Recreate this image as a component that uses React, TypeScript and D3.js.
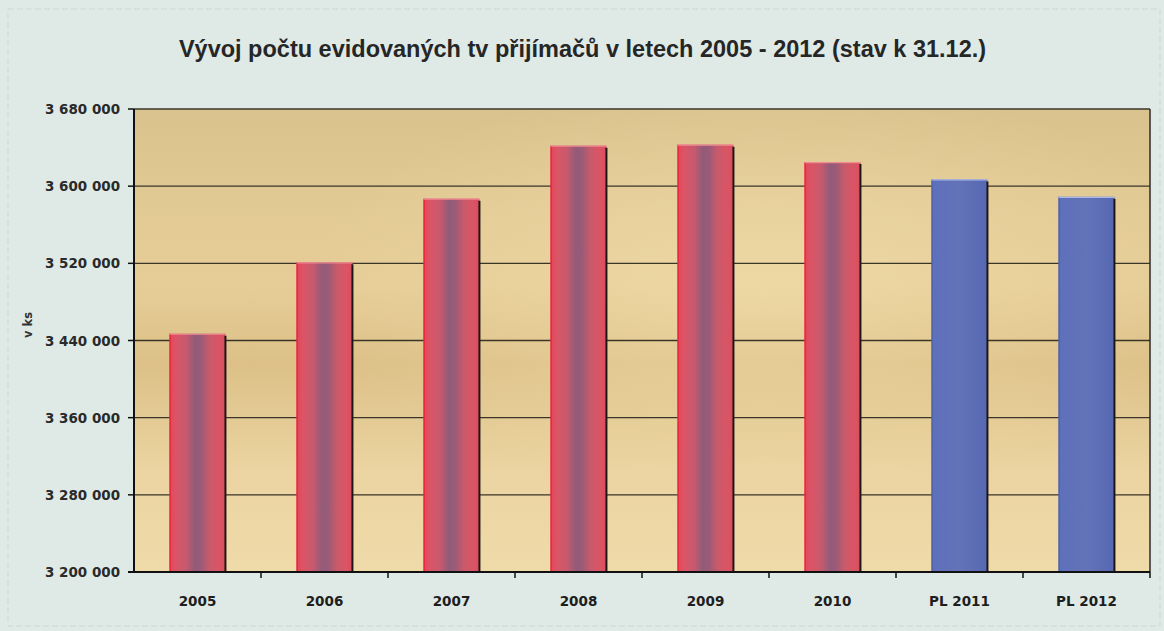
import React from 'react';
import * as d3 from 'd3';

// chart data
const categories = ['2005', '2006', '2007', '2008', '2009', '2010', 'PL 2011', 'PL 2012'];
const values = [3447000, 3521000, 3587000, 3642000, 3643000, 3625000, 3607000, 3589000];
const planned = [false, false, false, false, false, false, true, true];
const yTicks = [3200000, 3280000, 3360000, 3440000, 3520000, 3600000, 3680000];

const title = 'Vývoj počtu evidovaných tv přijímačů v letech 2005 - 2012 (stav k 31.12.)';
const yTitle = 'v ks';

const W = 1164;
const H = 631;
const margin = { top: 109, right: 14, bottom: 59, left: 134 };

const fmt = (v: number) => d3.format(',')(v).replace(/,/g, ' ');

const App = () => {
  const plotBottom = H - margin.bottom;
  const plotRight = W - margin.right;

  const x = d3.scaleBand<string>()
    .domain(categories)
    .range([margin.left, plotRight])
    .paddingInner(0.56)
    .paddingOuter(0.28);

  const y = d3.scaleLinear()
    .domain([yTicks[0], yTicks[yTicks.length - 1]])
    .range([plotBottom, margin.top]);

  const step = x.step();
  const titleFont = '"Liberation Sans", Arial, sans-serif';
  const tickFont = '"DejaVu Sans", Verdana, sans-serif';

  return (
    <svg
      width={W}
      height={H}
      style={{ position: 'absolute', left: 0, top: 0, display: 'block' }}
    >
      <defs>
        <linearGradient id="plot-bg" x1="0" x2="0" y1="0" y2="1">
          <stop offset="0%" stopColor="#d9c28d" />
          <stop offset="22%" stopColor="#e2ca94" />
          <stop offset="38%" stopColor="#e6cd97" />
          <stop offset="55%" stopColor="#dcc087" />
          <stop offset="78%" stopColor="#ebd4a1" />
          <stop offset="100%" stopColor="#efdaa9" />
        </linearGradient>
        <radialGradient id="plot-glow" cx="0.62" cy="0.38" r="0.45">
          <stop offset="0%" stopColor="#f3e0ae" stopOpacity="0.55" />
          <stop offset="100%" stopColor="#f3e0ae" stopOpacity="0" />
        </radialGradient>
        <linearGradient id="red-bar" x1="0" x2="1" y1="0" y2="0">
          <stop offset="0%" stopColor="#e4465a" />
          <stop offset="12%" stopColor="#db5566" />
          <stop offset="30%" stopColor="#c65a6e" />
          <stop offset="45%" stopColor="#935b79" />
          <stop offset="55%" stopColor="#975b78" />
          <stop offset="72%" stopColor="#c95a6b" />
          <stop offset="90%" stopColor="#dc5464" />
          <stop offset="100%" stopColor="#d84d5e" />
        </linearGradient>
        <linearGradient id="blue-bar" x1="0" x2="1" y1="0" y2="0">
          <stop offset="0%" stopColor="#5e70bb" />
          <stop offset="50%" stopColor="#6373b8" />
          <stop offset="100%" stopColor="#5668b2" />
        </linearGradient>
      </defs>

      <rect x={0} y={0} width={W} height={H} fill="#dfeae6" />
      <rect x={8} y={9} width={W - 12} height={H - 14} fill="none" stroke="#cdd6d2" strokeWidth={1} strokeDasharray="6 3" />

      <text
        x={W / 2 + 0.5}
        y={57}
        textAnchor="middle"
        fontFamily={titleFont}
        fontSize={23.5}
        fontWeight="bold"
        fill="#262626"
      >
        {title}
      </text>

      {/* plot area */}
      <rect
        x={margin.left}
        y={margin.top}
        width={plotRight - margin.left}
        height={plotBottom - margin.top}
        fill="url(#plot-bg)"
      />
      <rect
        x={margin.left}
        y={margin.top}
        width={plotRight - margin.left}
        height={plotBottom - margin.top}
        fill="url(#plot-glow)"
      />

      {/* gridlines */}
      {yTicks.slice(1).map(t => (
        <line
          key={'g' + t}
          x1={margin.left}
          x2={plotRight}
          y1={y(t)}
          y2={y(t)}
          stroke="#3b3528"
          strokeWidth={1.3}
        />
      ))}
      <line x1={plotRight} x2={plotRight} y1={margin.top} y2={plotBottom} stroke="#2b2b2b" strokeWidth={1.5} />

      {/* bars */}
      {categories.map((c, i) => {
        const bx = x(c) as number;
        const bw = x.bandwidth();
        const top = y(values[i]);
        const h = plotBottom - top;
        return (
          <g key={c}>
            <rect x={bx} y={top} width={bw} height={h} fill={planned[i] ? 'url(#blue-bar)' : 'url(#red-bar)'} />
            <line x1={bx + 0.5} x2={bx + 0.5} y1={top} y2={plotBottom} stroke={planned[i] ? '#4a5ea8' : '#ec1c3a'} strokeWidth={1.2} />
            <line x1={bx} x2={bx + bw} y1={top + 0.5} y2={top + 0.5} stroke={planned[i] ? '#a9b8e4' : '#f08a90'} strokeWidth={1.2} />
            <line x1={bx + bw} x2={bx + bw} y1={top + 2} y2={plotBottom} stroke="#1e1616" strokeWidth={2} />
          </g>
        );
      })}

      {/* axes */}
      <line x1={margin.left} x2={margin.left} y1={margin.top} y2={plotBottom} stroke="#111" strokeWidth={2} />
      <line x1={margin.left - 6} x2={plotRight} y1={plotBottom} y2={plotBottom} stroke="#111" strokeWidth={2} />
      {yTicks.map(t => (
        <g key={'y' + t}>
          <line x1={margin.left - 6} x2={margin.left} y1={y(t)} y2={y(t)} stroke="#111" strokeWidth={1.5} />
          <text
            x={margin.left - 14}
            y={y(t)}
            dy="0.36em"
            textAnchor="end"
            fontFamily={tickFont}
            fontSize={14}
            fontWeight="bold"
            fill="#2a2a2a"
            textLength={75}
            lengthAdjust="spacingAndGlyphs"
          >
            {fmt(t)}
          </text>
        </g>
      ))}
      {categories.map((c, i) => (
        <g key={'x' + c}>
          {i > 0 && (
            <line
              x1={margin.left + i * step}
              x2={margin.left + i * step}
              y1={plotBottom}
              y2={plotBottom + 6}
              stroke="#111"
              strokeWidth={1.5}
            />
          )}
          <text
            x={(x(c) as number) + x.bandwidth() / 2}
            y={601}
            dy="0.36em"
            textAnchor="middle"
            fontFamily={tickFont}
            fontSize={13.5}
            fontWeight="bold"
            fill="#1e1e1e"
          >
            {c}
          </text>
        </g>
      ))}
      <line x1={plotRight} x2={plotRight} y1={plotBottom} y2={plotBottom + 6} stroke="#111" strokeWidth={1.5} />

      <text
        transform={`translate(32, ${325}) rotate(-90)`}
        textAnchor="middle"
        fontFamily={tickFont}
        fontSize={11.5}
        fontWeight="bold"
        fill="#333"
      >
        {yTitle}
      </text>
    </svg>
  );
};

export default App;
